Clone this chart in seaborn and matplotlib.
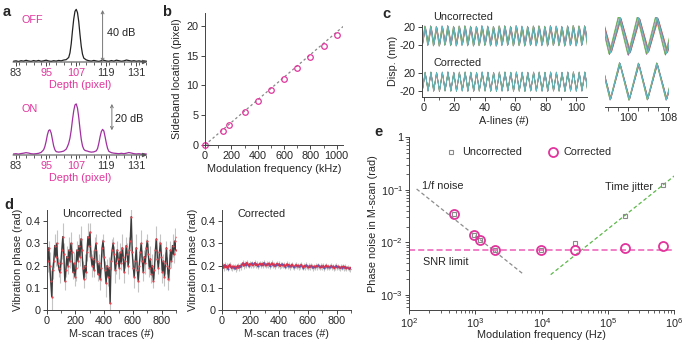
import numpy as np
import matplotlib
matplotlib.use("Agg")
import matplotlib.pyplot as plt
import seaborn as sns
from matplotlib.lines import Line2D
from matplotlib.ticker import MultipleLocator, FixedLocator

# ---- data ----
# a: A-line profiles (dB above noise floor)
off_depth = [82, 83, 84, 85, 86, 87, 88, 89, 90, 91, 92, 93, 94, 95, 96, 97, 98, 99, 100, 101, 102, 103,
             104, 104.5, 105, 105.5, 106, 106.5, 107, 107.5, 108, 108.5, 109, 109.5, 110,
             111, 112, 113, 114, 115, 116, 117, 118, 119, 120, 121, 122, 123, 124, 125, 126, 127, 128,
             129, 130, 131, 132, 133, 134, 135]
off_db = [0.6, 0.9, 0.4, 1.0, 0.7, 1.3, 0.8, 0.5, 1.1, 0.7, 1.2, 0.6, 0.9, 1.4, 0.8, 0.5, 1.0, 0.7, 1.2, 0.9, 1.5, 1.8,
          3.5, 7, 14, 24, 33, 39, 40.5, 38, 31, 21, 12, 6, 3,
          1.6, 1.0, 0.7, 1.2, 0.8, 0.5, 1.0, 1.3, 0.8, 0.6, 1.1, 0.7, 1.4, 1.0, 0.6, 0.9, 1.5, 1.1,
          0.7, 1.0, 0.6, 0.9, 0.5, 0.8, 0.6]
on_depth = [82, 83, 84, 85, 86, 87, 88, 89, 90, 91, 92, 93, 94, 94.5, 95, 95.5, 96, 96.5, 97, 97.5, 98, 98.5,
            99, 100, 101, 102, 103, 103.5, 104, 104.5, 105, 105.5, 106, 106.5, 107, 107.5, 108, 108.5,
            109, 109.5, 110, 110.5, 111, 111.5, 112, 113, 114, 115, 115.5, 116, 116.5, 117, 117.5, 118,
            118.5, 119, 119.5, 120, 121, 122, 123, 124, 125, 126, 127, 128, 129, 130, 131, 132, 133, 134, 135]
on_db = [0.8, 1.0, 0.7, 1.1, 1.4, 1.8, 1.5, 1.0, 0.8, 1.0, 1.3, 2.0, 4, 6.5, 10.5, 15.5, 18.8, 19.4, 17, 12, 7, 4,
         2.6, 2.2, 2.5, 3.0, 4.5, 6.5, 9, 13, 19, 27, 34, 38.5, 39.3, 36, 29, 20,
         12, 7, 4.5, 3.5, 3.2, 3.0, 2.6, 2.2, 2.4, 3.2, 5, 9, 14, 18, 19.7, 18.5,
         14, 9, 5, 2.8, 1.8, 1.4, 1.2, 1.0, 1.3, 1.0, 1.4, 1.9, 1.5, 1.0, 0.8, 1.0, 0.7, 0.9, 0.7]
a_ticks = [83, 95, 107, 119, 131]

# b: sideband location vs modulation frequency
b_freq = [0, 140, 180, 300, 400, 500, 600, 700, 800, 900, 1000]
b_pos = [0, 2.4, 3.3, 5.5, 7.3, 9.2, 11.0, 13.0, 14.7, 16.6, 18.4]
b_fit_x = [0, 1050]
b_fit_y = [0, 19.9]

# c: displacement turning points (A-line, nm)
c_x = [-1.1, 0.8, 2.7, 4.6, 6.4, 8.3, 10.2, 12.1, 13.9, 15.8, 17.7, 19.6, 21.4, 23.3, 25.2, 27.1, 28.9,
       30.8, 32.7, 34.6, 36.4, 38.3, 40.2, 42.1, 43.9, 45.8, 47.7, 49.6, 51.4, 53.3, 55.2, 57.1, 58.9,
       60.8, 62.7, 64.6, 66.4, 68.3, 70.2, 72.1, 73.9, 75.8, 77.7, 79.6, 81.4, 83.3, 85.2, 87.1, 88.9,
       90.8, 92.7, 94.6, 96.4, 98.3, 100.2, 102.1, 103.9, 105.8, 107.7, 109.6]
c_unc = [-20.3,
         20.5, -19.8, 21.0, -20.6, 19.7, -21.2, 20.8, -19.5, 21.4, -20.3,
         19.9, -20.9, 20.6, -19.7, 21.1, -20.5, 20.2, -21.0, 19.8, -20.2,
         21.3, -19.9, 20.4, -20.8, 19.6, -21.3, 20.9, -20.0, 21.2, -19.6,
         20.0, -20.7, 21.5, -20.1, 20.3, -21.1, 19.9, -19.8, 20.7, -20.6,
         21.0, -20.2, 20.1, -21.0, 21.4, -19.7, 20.5, -20.4, 19.8, -21.2,
         20.9, -20.0, 21.6, -20.8, 20.8, -19.9, 21.2, -20.5, 20.0]
c_cor = [-20.0,
         20.2, -20.1, 20.6, -20.4, 20.0, -20.8, 20.5, -19.9, 20.9, -20.3,
         20.1, -20.6, 20.4, -20.0, 20.7, -20.5, 20.3, -20.7, 20.0, -20.2,
         20.8, -20.1, 20.3, -20.6, 19.9, -20.9, 20.6, -20.2, 20.7, -19.9,
         20.2, -20.5, 20.9, -20.3, 20.4, -20.8, 20.1, -20.0, 20.5, -20.4,
         20.6, -20.3, 20.2, -20.7, 20.8, -20.0, 20.4, -20.3, 20.1, -20.8,
         20.6, -20.2, 21.0, -20.5, 20.5, -20.1, 20.7, -20.4, 20.2]
trace_colors = ["#e8c040", "#e05a30", "#9a55a8", "#4a78c8", "#70b850", "#8a8a8a", "#5cc0cc"]
unc_gain = [1.0, 0.9, 1.08, 0.95, 1.04, 0.92, 1.0]
unc_lag = [0.0, 0.25, -0.2, 0.15, -0.3, 0.1, 0.0]
cor_gain = [1.0, 0.96, 1.04, 0.98, 1.03, 0.97, 1.0]
cor_lag = [0.0, 0.08, -0.06, 0.05, -0.1, 0.04, 0.0]

# d: vibration phase per M-scan trace
d_unc = [0.27, 0.22, 0.28, 0.20, 0.13, 0.06, 0.18, 0.22, 0.29, 0.24,
         0.30, 0.21, 0.19, 0.17, 0.21, 0.27, 0.33, 0.25, 0.13, 0.18,
         0.24, 0.20, 0.27, 0.22, 0.30, 0.26, 0.17, 0.21, 0.15, 0.19,
         0.27, 0.22, 0.29, 0.24, 0.32, 0.27, 0.19, 0.14, 0.20, 0.17,
         0.26, 0.33, 0.29, 0.35, 0.24, 0.20, 0.23, 0.18, 0.27, 0.30,
         0.22, 0.16, 0.21, 0.14, 0.19, 0.28, 0.31, 0.24, 0.18, 0.12,
         0.20, 0.15, 0.19, 0.03, 0.22, 0.27, 0.30, 0.25, 0.18, 0.21,
         0.27, 0.23, 0.19, 0.26, 0.21, 0.28, 0.24, 0.17, 0.22, 0.29,
         0.25, 0.20, 0.27, 0.31, 0.42, 0.26, 0.19, 0.15, 0.22, 0.28,
         0.18, 0.13, 0.20, 0.26, 0.30, 0.22, 0.17, 0.24, 0.21, 0.28,
         0.31, 0.25, 0.19, 0.23, 0.16, 0.20, 0.13, 0.18, 0.27, 0.32,
         0.23, 0.19, 0.26, 0.30, 0.24, 0.17, 0.22, 0.15, 0.21, 0.28,
         0.20, 0.14, 0.19, 0.27, 0.22, 0.29, 0.25, 0.31, 0.27, 0.33]
d_unc_err = [0.04, 0.05, 0.03, 0.06, 0.05, 0.07, 0.04, 0.03, 0.05, 0.04, 0.06, 0.03, 0.04, 0.05, 0.03, 0.04, 0.06, 0.05, 0.04, 0.03,
             0.05, 0.04, 0.06, 0.03, 0.05, 0.04, 0.03, 0.05, 0.04, 0.06, 0.04, 0.03, 0.05, 0.04, 0.06, 0.05, 0.03, 0.04, 0.05, 0.03,
             0.04, 0.06, 0.05, 0.04, 0.03, 0.05, 0.04, 0.03, 0.06, 0.04, 0.05, 0.03, 0.04, 0.05, 0.06, 0.04, 0.03, 0.05, 0.04, 0.06,
             0.03, 0.04, 0.05, 0.07, 0.04, 0.05, 0.03, 0.04, 0.06, 0.05, 0.04, 0.03, 0.05, 0.04, 0.03, 0.06, 0.04, 0.05, 0.03, 0.04,
             0.05, 0.04, 0.06, 0.04, 0.05, 0.03, 0.04, 0.05, 0.03, 0.06, 0.04, 0.05, 0.03, 0.04, 0.06, 0.05, 0.04, 0.03, 0.05, 0.04,
             0.03, 0.05, 0.04, 0.06, 0.04, 0.05, 0.03, 0.04, 0.05, 0.06, 0.04, 0.03, 0.05, 0.04, 0.06, 0.05, 0.03, 0.04, 0.05, 0.03,
             0.04, 0.05, 0.06, 0.04, 0.03, 0.05, 0.04, 0.06, 0.05, 0.04]
d_cor = [0.195, 0.201, 0.189, 0.203, 0.192, 0.198, 0.186, 0.199, 0.204, 0.193, 0.188, 0.197, 0.190, 0.196, 0.185, 0.194, 0.200, 0.189, 0.199, 0.193,
         0.205, 0.211, 0.198, 0.207, 0.202, 0.213, 0.204, 0.199, 0.208, 0.203, 0.210, 0.200, 0.206, 0.212, 0.201, 0.207, 0.197, 0.205, 0.209, 0.203,
         0.208, 0.200, 0.212, 0.204, 0.199, 0.207, 0.203, 0.210, 0.198, 0.205, 0.211, 0.202, 0.206, 0.196, 0.204, 0.209, 0.201, 0.207, 0.197, 0.203,
         0.206, 0.199, 0.204, 0.195, 0.201, 0.207, 0.198, 0.203, 0.194, 0.200, 0.205, 0.197, 0.192, 0.199, 0.203, 0.196, 0.201, 0.193, 0.198, 0.204,
         0.196, 0.191, 0.199, 0.194, 0.202, 0.197, 0.190, 0.198, 0.193, 0.200, 0.195, 0.189, 0.197, 0.192, 0.199, 0.194, 0.201, 0.196, 0.190, 0.198,
         0.193, 0.199, 0.188, 0.196, 0.201, 0.192, 0.197, 0.190, 0.195, 0.199, 0.191, 0.196, 0.187, 0.194, 0.199, 0.190, 0.196, 0.192, 0.188, 0.195,
         0.191, 0.197, 0.189, 0.194, 0.186, 0.192, 0.188, 0.184, 0.190, 0.186]
d_cor_err = 0.012

# e: phase noise vs modulation frequency
e_freq = [480, 950, 1170, 2000, 9900, 31800, 181000, 673000]
e_unc = [0.034, 0.0136, 0.0109, 0.0071, 0.0071, 0.0097, 0.032, 0.121]
e_cor = [0.034, 0.0136, 0.0109, 0.0071, 0.0071, 0.0072, 0.0077, 0.0086]
e_flicker = ([129, 5400], [0.103, 0.00244])
e_jitter = ([13700, 1.02e6], [0.00244, 0.184])
e_snr = ([100, 1e6], [0.00705, 0.00705])

# ---- figure ----
sns.set_theme(style="ticks")
FS = 7.8
plt.rcParams.update({
    "font.family": ["Liberation Sans", "DejaVu Sans"],
    "mathtext.default": "regular",
    "font.size": FS,
    "axes.labelsize": FS,
    "xtick.labelsize": FS,
    "ytick.labelsize": FS,
    "legend.fontsize": FS,
})

MAG = "#e0359c"
PUR = "#a0309f"
W, H = 685, 341
fig = plt.figure(figsize=(6.85, 3.41), dpi=100)


def box(l, t, r, b):
    return [l / W, 1 - b / H, (r - l) / W, (b - t) / H]


def style(ax):
    sns.despine(ax=ax)
    ax.set_facecolor("none")
    ax.tick_params(which="major", length=3, width=0.7, pad=1.5, labelsize=FS, color="#444444")
    ax.tick_params(which="minor", length=2, width=0.6, color="#444444")
    for s in ax.spines.values():
        s.set_linewidth(0.7)
        s.set_color("#444444")


# a
for top, bot, depth, db, col, tag, dbtxt, arr in [
        (7.4, 62, off_depth, off_db, "#222222", "OFF", "40 dB", (117.5, 0, 40, 119.2, 22)),
        (100.4, 155, on_depth, on_db, PUR, "ON", "20 dB", (121.2, 19, 39.3, 122.6, 28))]:
    ax = fig.add_axes(box(13, top, 147, bot))
    sns.lineplot(x=depth, y=db, ax=ax, color=col, lw=0.9, estimator=None, sort=False)
    style(ax)
    ax.set_xlim(81.8, 135.2)
    ax.set_ylim(0, 42)
    ax.spines["left"].set_visible(False)
    ax.spines["bottom"].set_visible(False)
    ax.set_yticks([])
    ax.annotate("", xy=(1, 0), xytext=(0, 0), xycoords="axes fraction",
                arrowprops=dict(arrowstyle="-|>", color="#555555", lw=0.8, mutation_scale=6,
                                shrinkA=0, shrinkB=0))
    ax.set_xticks(a_ticks)
    ax.xaxis.set_minor_locator(MultipleLocator(3))
    for lab, c in zip(ax.get_xticklabels(), ["#333333", MAG, MAG, "#333333", "#333333"]):
        lab.set_color(c)
    ax.set_xlabel("Depth (pixel)", color=MAG, labelpad=1)
    ax.text(85.2, 32 if tag == "OFF" else 35.5, tag, color=MAG, fontsize=FS, va="center")
    x0, y0, y1, tx, ty = arr
    ax.annotate("", xy=(x0, y1), xytext=(x0, y0),
                arrowprops=dict(arrowstyle="<->", color="#777777", lw=0.7, mutation_scale=5,
                                shrinkA=0, shrinkB=0))
    ax.text(tx, ty, dbtxt, fontsize=FS, va="center", color="#222222")

# b
ax = fig.add_axes(box(205, 12.7, 343, 145))
sns.lineplot(x=b_fit_x, y=b_fit_y, ax=ax, color="#888888", lw=0.9, linestyle=(0, (2, 2)))
ax.plot(b_freq, b_pos, "o", mfc="none", mec=MAG, ms=4, mew=0.9, clip_on=False)
style(ax)
ax.set_xlim(0, 1048)
ax.set_ylim(0, 22.2)
ax.set_xticks(range(0, 1001, 200))
ax.xaxis.set_minor_locator(MultipleLocator(100))
ax.set_yticks(range(0, 21, 5))
ax.set_xlabel("Modulation frequency (kHz)", labelpad=2)
ax.set_ylabel("Sideband location (pixel)", labelpad=3)

# c main
c_off = 100
ax = fig.add_axes(box(421.7, 25, 586.7, 96.7))
for col, g, lag in zip(trace_colors, unc_gain, unc_lag):
    ax.plot(np.array(c_x) + lag, np.array(c_unc) * g + c_off, color=col, lw=0.5)
for col, g, lag in zip(trace_colors, cor_gain, cor_lag):
    ax.plot(np.array(c_x) + lag, np.array(c_cor) * g, color=col, lw=0.5)
style(ax)
ax.set_xlim(-1.5, 107)
ax.set_ylim(-32.8, 123.9)
ax.set_yticks([-20, 20, c_off - 20, c_off + 20])
ax.set_yticklabels(["-20", "20", "-20", "20"])
ax.set_xticks(range(0, 101, 20))
ax.xaxis.set_minor_locator(MultipleLocator(10))
ax.set_xlabel("A-lines (#)", labelpad=2)
ax.set_ylabel("Disp. (nm)", labelpad=1)
fig.text(433 / W, 1 - 16.7 / H, "Uncorrected", fontsize=FS, va="center")
fig.text(433 / W, 1 - 63 / H, "Corrected", fontsize=FS, va="center")

# c zoom
z_off = 52.5
ax = fig.add_axes(box(605, 17, 669, 106.7))
for col, g, lag in zip(trace_colors, unc_gain, unc_lag):
    ax.plot(np.array(c_x) + lag, np.array(c_unc) * g + z_off, color=col, lw=0.6)
for col, g, lag in zip(trace_colors, cor_gain, cor_lag):
    ax.plot(np.array(c_x) + lag, np.array(c_cor) * g, color=col, lw=0.6)
style(ax)
ax.spines["left"].set_visible(False)
ax.set_yticks([])
ax.set_xlim(95.3, 108.2)
ax.set_ylim(-28.6, 73.9)
ax.xaxis.set_major_locator(FixedLocator([100, 108]))
ax.xaxis.set_minor_locator(FixedLocator([96, 98, 102, 104, 106]))
ax.tick_params(which="minor", length=3)

# d
d_x = np.arange(0, 904, 7)
for l, r, vals, err, title, tx in [(46.7, 176.1, d_unc, d_unc_err, "Uncorrected", 62),
                                   (221.7, 351.1, d_cor, d_cor_err, "Corrected", 237)]:
    ax = fig.add_axes(box(l, 210, r, 310))
    ax.errorbar(d_x, vals, yerr=err, fmt="none", ecolor="#c4c4c4", elinewidth=0.8)
    if title == "Uncorrected":
        sns.lineplot(x=d_x, y=vals, ax=ax, color="#3c3c3c", lw=1.0, estimator=None)
        ax.plot(d_x, vals, "o", ms=1.6, color="#e8404c", mew=0)
    else:
        sns.lineplot(x=d_x, y=vals, ax=ax, color="#e0304a", lw=1.3, estimator=None)
        ax.plot(d_x[::3], np.array(vals)[::3], "o", ms=1.4, color="#5a5ab8", mew=0)
    style(ax)
    ax.set_xlim(0, 900)
    ax.set_ylim(0, 0.45)
    ax.set_yticks([0, 0.1, 0.2, 0.3, 0.4])
    ax.set_yticklabels(["0", "0.1", "0.2", "0.3", "0.4"])
    ax.set_xticks(range(0, 801, 200))
    ax.xaxis.set_minor_locator(MultipleLocator(100))
    ax.set_xlabel("M-scan traces (#)", labelpad=2)
    ax.set_ylabel("Vibration phase (rad)", labelpad=2)
    fig.text(tx / W, 1 - 214 / H, title, fontsize=FS, va="center")

# e
ax = fig.add_axes(box(409.3, 137, 674, 310))
ax.set_xscale("log")
ax.set_yscale("log")
sns.lineplot(x=e_flicker[0], y=e_flicker[1], ax=ax, color="#8c8c8c", lw=0.9, linestyle=(0, (3, 2)))
sns.lineplot(x=e_jitter[0], y=e_jitter[1], ax=ax, color="#5cb84a", lw=0.9, linestyle=(0, (3, 2)))
sns.lineplot(x=e_snr[0], y=e_snr[1], ax=ax, color="#ee5cb6", lw=1.1, linestyle=(0, (4, 2)))
ax.plot(e_freq, e_unc, "s", mfc="none", mec="#8a8a8a", ms=3.2, mew=0.8)
ax.plot(e_freq, e_cor, "o", mfc="none", mec=MAG, ms=6.5, mew=1.3)
style(ax)
ax.set_xlim(100, 1e6)
ax.set_ylim(5.2e-4, 1)
ax.set_xticks([1e2, 1e3, 1e4, 1e5, 1e6])
ax.set_xticklabels([r"$10^{2}$", r"$10^{3}$", r"$10^{4}$", r"$10^{5}$", r"$10^{6}$"])
ax.set_yticks([1e-3, 1e-2, 1e-1, 1])
ax.set_yticklabels([r"$10^{-3}$", r"$10^{-2}$", r"$10^{-1}$", "1"])
ax.set_xlabel("Modulation frequency (Hz)", labelpad=0)
ax.set_ylabel("Phase noise in M-scan (rad)", labelpad=2)
ax.text(155, 0.119, "1/f noise", fontsize=FS, va="center")
ax.text(160, 0.0043, "SNR limit", fontsize=FS, va="center")
ax.text(90400, 0.114, "Time jitter", fontsize=FS, va="center")
handles = [Line2D([], [], ls="none", marker="s", ms=3.2, mfc="none", mec="#8a8a8a", mew=0.8),
           Line2D([], [], ls="none", marker="o", ms=6.5, mfc="none", mec=MAG, mew=1.3)]
ax.legend(handles, ["Uncorrected", "Corrected"], ncol=2, frameon=False, loc="upper left",
          bbox_to_anchor=(0.12, 0.965), handlelength=1.0, handletextpad=0.5,
          columnspacing=2.4, borderaxespad=0)

# panel letters
for x, y, s in [(3, 12, "a"), (162, 12, "b"), (382, 14, "c"), (4, 205, "d"), (374, 132, "e")]:
    fig.text(x / W, 1 - y / H, s, fontsize=10.5, fontweight="bold", va="center")

fig.savefig("out.png", dpi=100)
